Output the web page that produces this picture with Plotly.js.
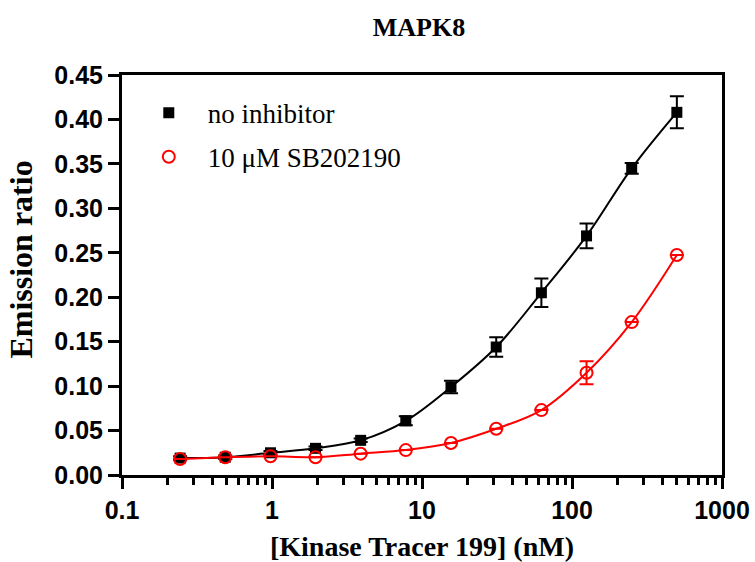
<!DOCTYPE html>
<html>
<head>
<meta charset="utf-8">
<script src="https://cdn.plot.ly/plotly-3.0.1.min.js"></script>
<style>html,body{margin:0;padding:0;background:#fff;}#chart{width:755px;height:562px;}</style>
</head>
<body>
<div id="chart"></div>
<script>
var concentrations = [0.244, 0.488, 0.977, 1.95, 3.9, 7.8, 15.6, 31.25, 62.5, 125, 250, 500];
var noInhibitor = [0.019, 0.020, 0.025, 0.030, 0.039, 0.061, 0.099, 0.144, 0.205, 0.269, 0.345, 0.408];
var noInhibitorErr = [0.002, 0.002, 0.002, 0.002, 0.002, 0.005, 0.007, 0.011, 0.016, 0.014, 0.006, 0.018];
var sb202190 = [0.018, 0.020, 0.021, 0.020, 0.024, 0.028, 0.036, 0.052, 0.073, 0.115, 0.172, 0.2475];
var sb202190Err = [0, 0, 0, 0, 0, 0, 0, 0, 0, 0.013, 0, 0];
var xTickVals = [0.1, 1, 10, 100, 1000];
var xTickText = ["0.1", "1", "10", "100", "1000"];
var yTickVals = [0, 0.05, 0.1, 0.15, 0.2, 0.25, 0.3, 0.35, 0.4, 0.45];

var minorVals = [];
[0.1, 1, 10, 100].forEach(function(d){ for (var m = 2; m <= 9; m++) minorVals.push(d * m); });

var serif = 'Liberation Serif, Times New Roman, serif';
var sans = 'Liberation Sans, Arial, sans-serif';

var traces = [
  {
    x: concentrations, y: noInhibitor, showlegend: false, hoverinfo: 'skip',
    type: 'scatter', mode: 'lines',
    line: {color: '#000', width: 2, shape: 'spline', smoothing: 1}
  },
  {
    x: concentrations, y: sb202190, showlegend: false, hoverinfo: 'skip',
    type: 'scatter', mode: 'lines',
    line: {color: '#ff0000', width: 2, shape: 'spline', smoothing: 1}
  },
  {
    x: concentrations, y: noInhibitor, name: 'no inhibitor', legendgroup: 'a',
    type: 'scatter', mode: 'markers',
    marker: {symbol: 'square', size: 11, color: '#000'},
    error_y: {type: 'data', array: noInhibitorErr, visible: true, color: '#000', thickness: 2, width: 7}
  },
  {
    x: concentrations, y: sb202190, name: '10 \u03BCM SB202190', legendgroup: 'b',
    type: 'scatter', mode: 'markers',
    marker: {symbol: 'circle-open', size: 12, color: '#ff0000', line: {width: 2, color: '#ff0000'}},
    error_y: {type: 'data', array: sb202190Err, visible: true, color: '#ff0000', thickness: 2, width: 7}
  }
];

var layout = {
  width: 755, height: 562,
  margin: {l: 122, r: 33, t: 75, b: 87},
  paper_bgcolor: '#fff', plot_bgcolor: '#fff',
  showlegend: true,
  title: {text: '<b>MAPK8</b>', x: 0.495, xref: 'paper', xanchor: 'center', y: 0.952, yref: 'container', yanchor: 'middle',
          font: {family: serif, size: 26, color: '#000'}},
  xaxis: {
    type: 'log', range: [-1, 3],
    tickvals: xTickVals, ticktext: xTickText,
    showline: true, linecolor: '#000', linewidth: 3, mirror: true,
    ticks: 'outside', ticklen: 11, tickwidth: 3, tickcolor: '#000',
    minor: {tickvals: minorVals, ticks: 'outside', ticklen: 7, tickwidth: 3, tickcolor: '#000', showgrid: false},
    showgrid: false, zeroline: false,
    tickfont: {family: sans, size: 25, color: '#000', weight: 'bold'},
    title: {text: '<b>[Kinase Tracer 199] (nM)</b>', standoff: 14,
            font: {family: serif, size: 28, color: '#000'}}
  },
  yaxis: {
    range: [0, 0.45],
    tickvals: yTickVals, tickformat: '.2f',
    showline: true, linecolor: '#000', linewidth: 3, mirror: true,
    ticks: 'outside', ticklen: 11, tickwidth: 3, tickcolor: '#000',
    showgrid: false, zeroline: false,
    tickfont: {family: sans, size: 25, color: '#000', weight: 'bold'}
  },
  annotations: [{
    text: '<b>Emission ratio</b>', textangle: -90,
    xref: 'paper', yref: 'paper', x: -0.168, y: 0.539,
    xanchor: 'center', yanchor: 'middle', showarrow: false,
    font: {family: serif, size: 32, color: '#000'}
  }],
  legend: {
    x: 0.013, y: 0.966, xanchor: 'left', yanchor: 'top',
    bgcolor: 'rgba(0,0,0,0)', borderwidth: 0,
    traceorder: 'grouped', tracegroupgap: 6,
    itemwidth: 68,
    font: {family: serif, size: 27, color: '#000'}
  }
};

Plotly.newPlot('chart', traces, layout, {displayModeBar: false, staticPlot: true});
</script>
</body>
</html>
